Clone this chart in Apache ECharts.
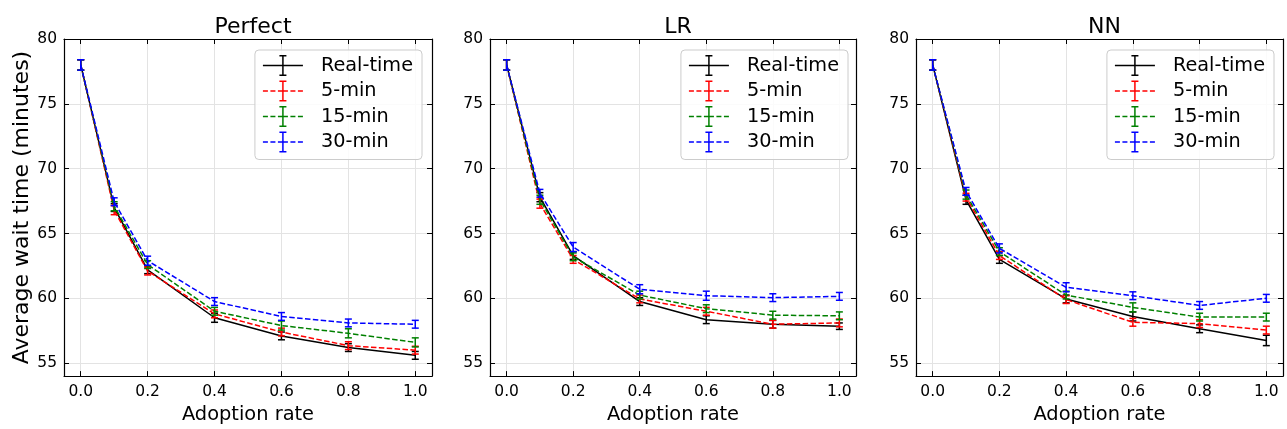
<!DOCTYPE html>
<html>
<head>
<meta charset="utf-8">
<script src="https://cdn.jsdelivr.net/npm/echarts@6/dist/echarts.min.js"></script>
<style>
  html, body { margin: 0; padding: 0; background: #fff; }
  #chart { width: 1287px; height: 429px; }
</style>
</head>
<body>
<div id="chart"></div>
<script>
// ---------------- data ----------------
const adoption = [0, 0.1, 0.2, 0.4, 0.6, 0.8, 1.0];
const panelTitles = ['Perfect', 'LR', 'NN'];
const seriesNames = ['Real-time', '5-min', '15-min', '30-min'];
const xTickLabels = ['0.0', '0.2', '0.4', '0.6', '0.8', '1.0'];

// Perfect
const perfectRealtime = [78.0, 67.0, 62.2, 58.5, 57.1, 56.2, 55.6];
const perfect5min     = [78.0, 66.8, 62.1, 58.8, 57.4, 56.35, 56.0];
const perfect15min    = [78.0, 67.1, 62.6, 59.0, 57.9, 57.3, 56.6];
const perfect30min    = [78.0, 67.45, 62.9, 59.75, 58.6, 58.1, 58.0];
const errPerfectRealtime = [0.4, 0.3, 0.3, 0.35, 0.3, 0.3, 0.3];
const errPerfect5min     = [0.4, 0.35, 0.3, 0.3, 0.3, 0.3, 0.3];
const errPerfect15min    = [0.4, 0.35, 0.3, 0.3, 0.35, 0.35, 0.35];
const errPerfect30min    = [0.4, 0.3, 0.35, 0.3, 0.3, 0.3, 0.3];

// LR
const lrRealtime = [78.0, 67.8, 63.3, 59.75, 58.35, 58.0, 57.85];
const lr5min     = [78.0, 67.3, 63.0, 59.95, 59.0, 58.0, 58.1];
const lr15min    = [78.0, 67.6, 63.2, 60.25, 59.2, 58.7, 58.65];
const lr30min    = [78.0, 68.1, 63.95, 60.7, 60.2, 60.05, 60.15];
const errLrRealtime = [0.4, 0.35, 0.3, 0.3, 0.3, 0.3, 0.25];
const errLr5min     = [0.4, 0.35, 0.3, 0.3, 0.3, 0.3, 0.3];
const errLr15min    = [0.4, 0.35, 0.3, 0.3, 0.3, 0.3, 0.3];
const errLr30min    = [0.4, 0.3, 0.35, 0.35, 0.35, 0.3, 0.3];

// NN
const nnRealtime = [78.0, 67.6, 63.0, 59.95, 58.6, 57.65, 56.75];
const nn5min     = [78.0, 67.8, 63.3, 59.9, 58.15, 58.05, 57.55];
const nn15min    = [78.0, 68.0, 63.6, 60.25, 59.3, 58.55, 58.55];
const nn30min    = [78.0, 68.25, 63.85, 60.85, 60.2, 59.45, 60.0];
const errNnRealtime = [0.4, 0.35, 0.3, 0.3, 0.35, 0.3, 0.4];
const errNn5min     = [0.4, 0.3, 0.3, 0.3, 0.3, 0.3, 0.3];
const errNn15min    = [0.4, 0.35, 0.3, 0.3, 0.35, 0.3, 0.3];
const errNn30min    = [0.4, 0.3, 0.35, 0.35, 0.3, 0.3, 0.3];

const panelMeans = [
  [perfectRealtime, perfect5min, perfect15min, perfect30min],
  [lrRealtime, lr5min, lr15min, lr30min],
  [nnRealtime, nn5min, nn15min, nn30min]
];
const panelErrs = [
  [errPerfectRealtime, errPerfect5min, errPerfect15min, errPerfect30min],
  [errLrRealtime, errLr5min, errLr15min, errLr30min],
  [errNnRealtime, errNn5min, errNn15min, errNn30min]
];

// ---------------- styles ----------------
const FONT = 'DejaVu Sans';
const colors = ['#000000', '#ff0000', '#008000', '#0000ff'];
const dashed = [false, true, true, true];
const grids = [
  { left: 64, right: 855, top: 39, bottom: 48 },
  { left: 490, right: 431, top: 39, bottom: 48 },
  { left: 916, right: 4, top: 39, bottom: 48 }
];
const legendRight = [865, 439, 13];

// legend icons (40 x 21 box)
function rect(x0, y0, x1, y1) { return `M${x0},${y0}H${x1}V${y1}H${x0}Z`; }
const errGlyph = rect(19.25, 0, 20.75, 21) + rect(16.5, 0, 23.5, 1.5) + rect(16.5, 19.5, 23.5, 21);
const solidIcon = 'path://' + rect(0, 9.75, 40, 11.25) + errGlyph;
let dashPath = '';
[[0, 5], [7.5, 12.5], [15, 25], [27.5, 32.5], [35, 40]].forEach(s => { dashPath += rect(s[0], 9.75, s[1], 11.25); });
const dashedIcon = 'path://' + dashPath + errGlyph;

function errRenderer(color) {
  return function (params, api) {
    const x = api.value(0);
    const lo = api.coord([x, api.value(1)]);
    const hi = api.coord([x, api.value(2)]);
    const cap = 3.5;
    const st = { stroke: color, lineWidth: 1.5 };
    return {
      type: 'group',
      children: [
        { type: 'line', shape: { x1: lo[0], y1: lo[1], x2: hi[0], y2: hi[1] }, style: st },
        { type: 'line', shape: { x1: lo[0] - cap, y1: lo[1], x2: lo[0] + cap, y2: lo[1] }, style: st },
        { type: 'line', shape: { x1: hi[0] - cap, y1: hi[1], x2: hi[0] + cap, y2: hi[1] }, style: st }
      ]
    };
  };
}

const xAxes = [], yAxes = [], series = [], titles = [], legends = [];
for (let p = 0; p < 3; p++) {
  const g = grids[p];
  // bottom x axis
  xAxes.push({
    type: 'value', gridIndex: p, position: 'bottom', min: -0.05, max: 1.05,
    minInterval: 0.2, maxInterval: 0.2, splitNumber: 5,
    name: 'Adoption rate', nameLocation: 'middle', nameGap: 26,
    nameTextStyle: { fontFamily: FONT, fontSize: 19.4, color: '#000' },
    axisLine: { show: true, onZero: false, lineStyle: { color: '#000', width: 1.2 } },
    axisTick: { show: true, inside: true, length: 5, lineStyle: { color: '#000', width: 1 } },
    axisLabel: {
      show: true, margin: 8, fontFamily: FONT, fontSize: 15.5, color: '#000',
      showMinLabel: false, showMaxLabel: false,
      formatter: v => { const i = Math.round(v / 0.2); return (Math.abs(v - i * 0.2) < 1e-6 && xTickLabels[i]) ? xTickLabels[i] : ''; }
    },
    splitLine: { show: true, lineStyle: { color: '#e3e3e3', width: 1 } }
  });
  // top x axis (ticks only)
  xAxes.push({
    type: 'value', gridIndex: p, position: 'top', min: -0.05, max: 1.05,
    minInterval: 0.2, maxInterval: 0.2, splitNumber: 5,
    axisLine: { show: true, onZero: false, lineStyle: { color: '#000', width: 1.2 } },
    axisTick: { show: true, inside: true, length: 5, lineStyle: { color: '#000', width: 1 } },
    axisLabel: { show: false }, splitLine: { show: false }
  });
  // left y axis
  yAxes.push({
    type: 'value', gridIndex: p, position: 'left', min: 54, max: 80,
    minInterval: 5, maxInterval: 5, splitNumber: 5,
    name: p === 0 ? 'Average wait time (minutes)' : '',
    nameLocation: 'middle', nameGap: 31,
    nameTextStyle: { fontFamily: FONT, fontSize: 22, color: '#000' },
    axisLine: { show: true, onZero: false, lineStyle: { color: '#000', width: 1.2 } },
    axisTick: { show: true, inside: true, length: 5, lineStyle: { color: '#000', width: 1 } },
    axisLabel: { show: true, margin: 7, fontFamily: FONT, fontSize: 15.5, color: '#000', showMinLabel: false, showMaxLabel: true },
    splitLine: { show: true, lineStyle: { color: '#e3e3e3', width: 1 } }
  });
  // right y axis (ticks only)
  yAxes.push({
    type: 'value', gridIndex: p, position: 'right', min: 54, max: 80,
    minInterval: 5, maxInterval: 5, splitNumber: 5,
    axisLine: { show: true, onZero: false, lineStyle: { color: '#000', width: 1.2 } },
    axisTick: { show: true, inside: true, length: 5, lineStyle: { color: '#000', width: 1 } },
    axisLabel: { show: false }, splitLine: { show: false }
  });

  titles.push({
    text: panelTitles[p],
    left: (g.left + (1287 - g.right)) / 2, top: 11, textAlign: 'center',
    textStyle: { fontFamily: FONT, fontSize: 22, fontWeight: 'normal', color: '#000' }
  });

  legends.push({
    right: legendRight[p], top: 50, orient: 'vertical', align: 'left',
    itemWidth: 40, itemHeight: 21, itemGap: 4.5,
    padding: [5, 9, 7, 8],
    backgroundColor: 'rgba(255,255,255,0.85)', borderColor: '#cccccc', borderWidth: 1, borderRadius: 4,
    textStyle: { fontFamily: FONT, fontSize: 19.3, color: '#000', padding: [0, 0, 0, 13] },
    itemStyle: { borderWidth: 0 },
    selectedMode: false,
    data: seriesNames.map((n, i) => ({ name: n, icon: dashed[i] ? dashedIcon : solidIcon }))
  });

  for (let s = 0; s < 4; s++) {
    const means = panelMeans[p][s];
    const errs = panelErrs[p][s];
    series.push({
      name: seriesNames[s], type: 'line', xAxisIndex: p * 2, yAxisIndex: p * 2,
      data: adoption.map((x, i) => [x, means[i]]),
      showSymbol: false, symbol: 'none', color: colors[s],
      itemStyle: { color: colors[s] },
      lineStyle: { color: colors[s], width: 1.5, type: dashed[s] ? [5.5, 2.4] : 'solid' },
      z: 2 + s * 2, animation: false, silent: true
    });
    series.push({
      name: seriesNames[s] + ' error', type: 'custom', xAxisIndex: p * 2, yAxisIndex: p * 2,
      data: adoption.map((x, i) => [x, means[i] - errs[i], means[i] + errs[i]]),
      renderItem: errRenderer(colors[s]),
      encode: { x: 0, y: [1, 2] },
      z: 3 + s * 2, animation: false, silent: true
    });
  }
}

const chart = echarts.init(document.getElementById('chart'), null, { renderer: 'canvas' });
chart.setOption({
  animation: false,
  backgroundColor: '#ffffff',
  title: titles,
  legend: legends,
  grid: grids,
  xAxis: xAxes,
  yAxis: yAxes,
  series: series
});
</script>
</body>
</html>
